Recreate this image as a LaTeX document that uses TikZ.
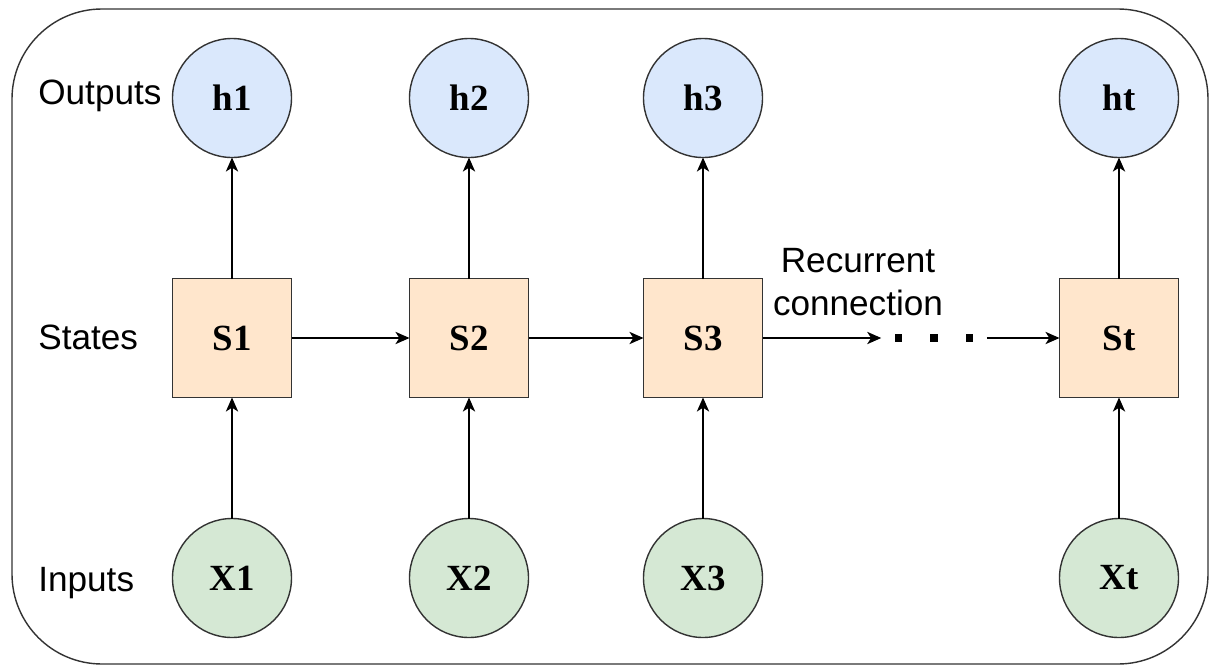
\documentclass[tikz,border=0pt]{standalone}
\usepackage{fontspec}
\setmainfont{Liberation Serif}
\setsansfont{Liberation Sans}
\usepackage{tikz}
\usetikzlibrary{arrows.meta}

\definecolor{outblue}{HTML}{DAE8FC}
\definecolor{stateorange}{HTML}{FFE6CC}
\definecolor{ingreen}{HTML}{D5E8D4}
\definecolor{edgegray}{HTML}{333333}

\begin{document}
\begin{tikzpicture}[
    outnode/.style={circle,draw=edgegray,fill=outblue,line width=0.8pt,minimum size=2.38cm,outer sep=0pt,font=\fontsize{21pt}{21pt}\selectfont\bfseries},
    innode/.style={circle,draw=edgegray,fill=ingreen,line width=0.8pt,minimum size=2.38cm,outer sep=0pt,font=\fontsize{21pt}{21pt}\selectfont\bfseries},
    statebox/.style={rectangle,draw=edgegray,fill=stateorange,line width=0.8pt,minimum size=2.38cm,outer sep=0pt,font=\fontsize{21pt}{21pt}\selectfont\bfseries},
    rowlabel/.style={anchor=base west,inner sep=0pt,font=\sffamily\fontsize{20pt}{24pt}\selectfont},
    link/.style={-{Stealth[length=8pt,width=7pt,inset=2.2pt]},line width=0.8pt,black}
]
    \useasboundingbox (0,0) rectangle (24.3,-13.36);

    % frame round the whole network
    \draw[line width=0.8pt,edgegray,rounded corners=1.8cm] (0.24,-0.18) rectangle (24.16,-13.28);

    \node[rowlabel]            (outlbl) at (0.76, -2.09)     {Outputs};
    \node[rowlabel]            (stlbl)  at (0.76, -6.99)     {States};
    \node[rowlabel]            (inlbl)  at (0.76, -11.83)    {Inputs};

    \node[outnode]             (h1) at (4.64, -1.96)         {h1};
    \node[outnode]             (h2) at (9.38, -1.96)         {h2};
    \node[outnode]             (h3) at (14.06, -1.96)        {h3};
    \node[outnode]             (ht) at (22.38, -1.96)        {ht};

    \node[statebox]            (S1) at (4.64, -6.76)         {S1};
    \node[statebox]            (S2) at (9.38, -6.76)         {S2};
    \node[statebox]            (S3) at (14.06, -6.76)        {S3};
    \node[statebox]            (St) at (22.38, -6.76)        {St};

    \node[innode]              (X1) at (4.64, -11.56)        {X1};
    \node[innode]              (X2) at (9.38, -11.56)        {X2};
    \node[innode]              (X3) at (14.06, -11.56)       {X3};
    \node[innode]              (Xt) at (22.38, -11.56)       {Xt};

    % the gap between S3 and St
    \node[inner xsep=0.27cm,inner ysep=0pt,outer sep=0pt] (dots) at (18.68, -6.76)
        {\rule{0.15cm}{0.15cm}\hspace{0.56cm}\rule{0.15cm}{0.15cm}\hspace{0.56cm}\rule{0.15cm}{0.15cm}};
    \node[align=center,inner sep=0pt,font=\sffamily\fontsize{20pt}{24pt}\selectfont] (rec) at (17.16, -5.64)
        {Recurrent\\connection};

    \draw (X1) edge[link]  (S1);
    \draw (X2) edge[link]  (S2);
    \draw (X3) edge[link]  (S3);
    \draw (Xt) edge[link]  (St);
    \draw (S1) edge[link]  (h1);
    \draw (S2) edge[link]  (h2);
    \draw (S3) edge[link]  (h3);
    \draw (St) edge[link]  (ht);
    \draw (S1) edge[link]  (S2);
    \draw (S2) edge[link]  (S3);
    \draw (S3) edge[link]  (dots);
    \draw (dots) edge[link]  (St);
\end{tikzpicture}
\end{document}
